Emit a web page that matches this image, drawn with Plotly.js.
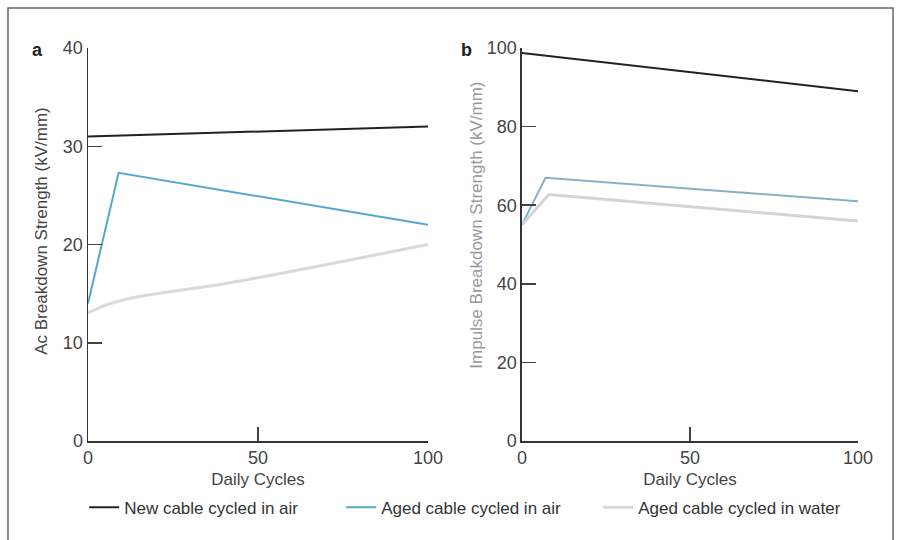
<!DOCTYPE html>
<html>
<head>
<meta charset="utf-8">
<script src="https://cdn.plot.ly/plotly-3.0.1.min.js"></script>
<style>html,body{margin:0;padding:0;background:#fff}#chart{width:898px;height:540px}</style>
</head>
<body>
<div id="chart"></div>
<script>
// Panel a: AC breakdown strength
const cyclesNewA = [0, 100];
const newAirA = [31, 32];
const cyclesAgedAirA = [0, 9, 100];
const agedAirA = [14, 27.3, 22];
const cyclesWaterA = [0, 5, 15, 40, 100];
const agedWaterA = [13, 13.8, 14.7, 16, 20];

// Panel b: Impulse breakdown strength
const cyclesNewB = [0, 100];
const newAirB = [98.7, 89];
const cyclesAgedAirB = [0, 7, 100];
const agedAirB = [55, 67, 61];
const cyclesWaterB = [0, 8, 100];
const agedWaterB = [55, 62.7, 56];

const seriesNames = ['New cable cycled in air', 'Aged cable cycled in air', 'Aged cable cycled in water'];
const xTicks = [0, 50, 100];
const yTicksA = [0, 10, 20, 30, 40];
const yTicksB = [0, 20, 40, 60, 80, 100];

const cNew = '#222222', cAged = '#55a7d0', cWater = '#d9d9d9';
const cAgedB = '#86b0c4', cWaterB = '#d4d4d4';

const traces = [
  {x: cyclesNewA, y: newAirA, name: seriesNames[0], legendgroup: 'n', mode: 'lines', line: {color: cNew, width: 2}, xaxis: 'x', yaxis: 'y'},
  {x: cyclesAgedAirA, y: agedAirA, name: seriesNames[1], legendgroup: 'a', mode: 'lines', line: {color: cAged, width: 2}, xaxis: 'x', yaxis: 'y'},
  {x: cyclesWaterA, y: agedWaterA, name: seriesNames[2], legendgroup: 'w', mode: 'lines', line: {color: cWater, width: 3, shape: 'spline'}, xaxis: 'x', yaxis: 'y'},
  {x: cyclesNewB, y: newAirB, name: seriesNames[0], legendgroup: 'n', showlegend: false, mode: 'lines', line: {color: cNew, width: 2}, xaxis: 'x2', yaxis: 'y2'},
  {x: cyclesAgedAirB, y: agedAirB, name: seriesNames[1], legendgroup: 'a', showlegend: false, mode: 'lines', line: {color: cAgedB, width: 2}, xaxis: 'x2', yaxis: 'y2'},
  {x: cyclesWaterB, y: agedWaterB, name: seriesNames[2], legendgroup: 'w', showlegend: false, mode: 'lines', line: {color: cWaterB, width: 3}, xaxis: 'x2', yaxis: 'y2'}
];

const font = {family: 'Liberation Sans, Arial, sans-serif', size: 17, color: '#444'};
const axBase = {
  showgrid: false, zeroline: false, showline: true, linecolor: '#333', linewidth: 1.5,
  ticks: 'inside', ticklen: 14, tickcolor: '#444', tickwidth: 1.5,
  tickfont: {family: font.family, size: 18, color: '#444'}, fixedrange: true
};

const layout = {
  width: 898, height: 540,
  margin: {l: 88, r: 40, t: 48, b: 99},
  paper_bgcolor: '#fff', plot_bgcolor: '#fff',
  font: font,
  showlegend: true,
  legend: {orientation: 'h', x: -0.005, y: -0.17, xanchor: 'left', yanchor: 'middle',
           font: {family: font.family, size: 17, color: '#333'}, entrywidth: 212, tracegroupgap: 0},
  xaxis: Object.assign({}, axBase, {domain: [0, 0.4416], range: [0, 100], tickvals: xTicks,
           title: {text: 'Daily Cycles', standoff: 6, font: {family: font.family, size: 17, color: '#444'}}}),
  yaxis: Object.assign({}, axBase, {range: [0, 40], tickvals: yTicksA}),
  xaxis2: Object.assign({}, axBase, {domain: [0.5636, 1], range: [0, 100], tickvals: xTicks, anchor: 'y2',
           title: {text: 'Daily Cycles', standoff: 6, font: {family: font.family, size: 17, color: '#444'}}}),
  yaxis2: Object.assign({}, axBase, {range: [0, 100], tickvals: yTicksB, anchor: 'x2'}),
  annotations: [
    {text: '<b>a</b>', xref: 'paper', yref: 'paper', x: -0.066, y: 0.995, xanchor: 'center', yanchor: 'middle', showarrow: false, font: {family: font.family, size: 18, color: '#222'}},
    {text: '<b>b</b>', xref: 'paper', yref: 'paper', x: 0.492, y: 0.995, xanchor: 'center', yanchor: 'middle', showarrow: false, font: {family: font.family, size: 18, color: '#222'}},
    {text: 'Ac Breakdown Strength (kV/mm)', xref: 'paper', yref: 'paper', x: -0.0597, y: 0.535, xanchor: 'center', yanchor: 'middle', textangle: -90, showarrow: false,
     font: {family: font.family, size: 17, color: '#444'}},
    {text: 'Impulse Breakdown Strength (kV/mm)', xref: 'paper', yref: 'paper', x: 0.505, y: 0.55, xanchor: 'center', yanchor: 'middle', textangle: -90, showarrow: false,
     font: {family: font.family, size: 17, color: '#999'}}
  ],
  shapes: [
    {type: 'rect', xref: 'paper', yref: 'paper', x0: -0.1039, x1: 1.0455, y0: -0.4, y1: 1.1018,
     line: {color: '#666', width: 1.5}, fillcolor: 'rgba(0,0,0,0)', layer: 'below'}
  ]
};

Plotly.newPlot('chart', traces, layout, {displayModeBar: false, staticPlot: true});
</script>
</body>
</html>
